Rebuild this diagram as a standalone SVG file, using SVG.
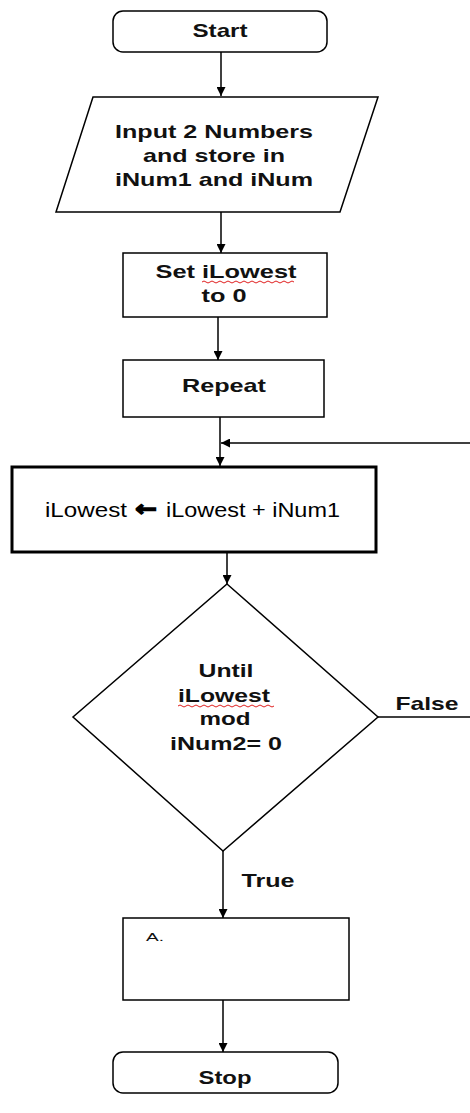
<svg xmlns="http://www.w3.org/2000/svg" width="470" height="1113" viewBox="0 0 470 1113">
<defs>
<marker id="ah" viewBox="0 0 10 10" refX="10" refY="5" markerWidth="9" markerHeight="9" markerUnits="userSpaceOnUse" orient="auto">
<path d="M0,0 L10,5 L0,10 z" fill="#000"/>
</marker>
<style>
.sh{fill:#fff;stroke:#000;stroke-width:1.5}
.b{font-family:"Liberation Sans",Arial,sans-serif;font-weight:bold;font-size:19px;fill:#111;text-anchor:middle}
.n{font-family:"Liberation Sans",Arial,sans-serif;font-size:21px;fill:#000}
.c{fill:none;stroke:#000;stroke-width:1.5}
.sq{fill:none;stroke:#e02020;stroke-width:1}
</style>
</defs>
<rect width="470" height="1113" fill="#fff"/>
<g id="connectors">
<line class="c" x1="221" y1="52" x2="221" y2="96" marker-end="url(#ah)"/>
<line class="c" x1="221" y1="212" x2="221" y2="253" marker-end="url(#ah)"/>
<line class="c" x1="218" y1="317" x2="218" y2="360" marker-end="url(#ah)"/>
<line class="c" x1="220" y1="417" x2="220" y2="466" marker-end="url(#ah)"/>
<line class="c" x1="470" y1="443" x2="221" y2="443" marker-end="url(#ah)"/>
<line class="c" x1="227" y1="552" x2="227" y2="584" marker-end="url(#ah)"/>
<line class="c" x1="378" y1="717" x2="470" y2="717"/>
<line class="c" x1="223" y1="851" x2="223" y2="918" marker-end="url(#ah)"/>
<line class="c" x1="223" y1="1000" x2="223" y2="1052" marker-end="url(#ah)"/>
<text class="b" x="427" y="710" textLength="63" lengthAdjust="spacingAndGlyphs">False</text>
<text class="b" x="268" y="887" textLength="53" lengthAdjust="spacingAndGlyphs">True</text>
</g>
<g id="start">
<rect class="sh" x="113" y="11" width="214" height="41" rx="10"/>
<text class="b" x="220" y="37" textLength="55" lengthAdjust="spacingAndGlyphs">Start</text>
</g>
<g id="input">
<polygon class="sh" points="93,97 378,97 340,212 56,212"/>
<text class="b" x="214" y="138" textLength="198" lengthAdjust="spacingAndGlyphs">Input 2 Numbers</text>
<text class="b" x="214" y="162" textLength="142" lengthAdjust="spacingAndGlyphs">and store in</text>
<text class="b" x="214" y="186" textLength="198" lengthAdjust="spacingAndGlyphs">iNum1 and iNum</text>
</g>
<g id="set">
<rect class="sh" x="123" y="253" width="204" height="64"/>
<text class="b" x="226" y="278" textLength="141" lengthAdjust="spacingAndGlyphs">Set iLowest</text>
<text class="b" x="224" y="302" textLength="45" lengthAdjust="spacingAndGlyphs">to 0</text>
<path class="sq" d="M202,282 q2,-2 4,0 t4,0 t4,0 t4,0 t4,0 t4,0 t4,0 t4,0 t4,0 t4,0 t4,0 t4,0 t4,0 t4,0 t4,0 t4,0 t4,0 t4,0 t4,0 t4,0 t4,0 t4,0 t4,0"/>
</g>
<g id="repeat">
<rect class="sh" x="123" y="360" width="201" height="57"/>
<text class="b" x="224" y="392" textLength="84" lengthAdjust="spacingAndGlyphs">Repeat</text>
</g>
<g id="assign">
<rect x="12" y="467" width="364" height="85" fill="#fff" stroke="#000" stroke-width="3"/>
<text class="n" x="45" y="517" textLength="82" lengthAdjust="spacingAndGlyphs">iLowest</text>
<text x="135" y="516" font-family="DejaVu Sans,sans-serif" font-weight="bold" font-size="22" fill="#000" stroke="#000" stroke-width="1.2" textLength="22" lengthAdjust="spacingAndGlyphs">←</text>
<text class="n" x="166" y="517" textLength="174" lengthAdjust="spacingAndGlyphs">iLowest + iNum1</text>
</g>
<g id="until">
<polygon class="sh" points="227,584 378,717 223,851 73,717"/>
<text class="b" x="226" y="677" textLength="55" lengthAdjust="spacingAndGlyphs">Until</text>
<text class="b" x="224" y="702" textLength="92" lengthAdjust="spacingAndGlyphs">iLowest</text>
<text class="b" x="225" y="725" textLength="51" lengthAdjust="spacingAndGlyphs">mod</text>
<text class="b" x="226" y="750" textLength="112" lengthAdjust="spacingAndGlyphs">iNum2= 0</text>
<path class="sq" d="M178,706 q2,-2 4,0 t4,0 t4,0 t4,0 t4,0 t4,0 t4,0 t4,0 t4,0 t4,0 t4,0 t4,0 t4,0 t4,0 t4,0 t4,0 t4,0 t4,0 t4,0 t4,0 t4,0 t4,0 t4,0 t4,0"/>
</g>
<g id="a">
<rect class="sh" x="123" y="918" width="226" height="82"/>
<text x="146" y="941" font-family="Liberation Sans,Arial,sans-serif" font-size="11" fill="#111" textLength="18" lengthAdjust="spacingAndGlyphs">A.</text>
</g>
<g id="stop">
<rect class="sh" x="113" y="1052" width="225" height="41" rx="10"/>
<text class="b" x="225" y="1084" textLength="53" lengthAdjust="spacingAndGlyphs">Stop</text>
</g>
</svg>
